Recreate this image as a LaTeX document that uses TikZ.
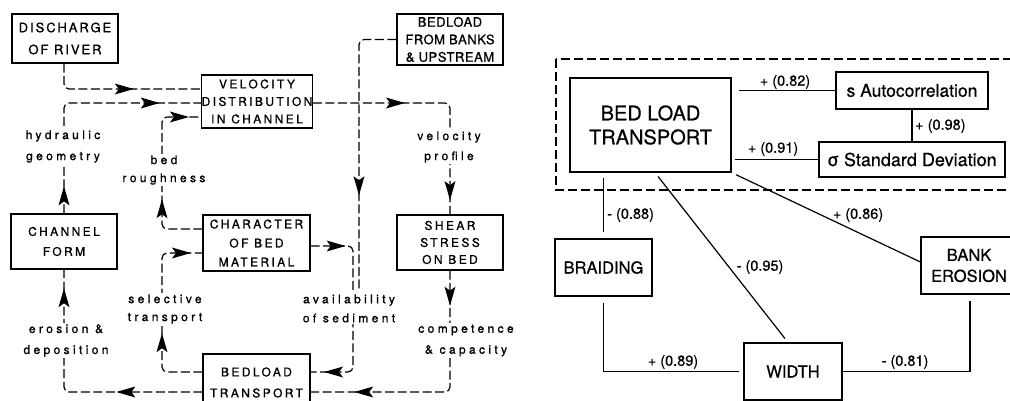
\documentclass[tikz,border=0pt]{standalone}
\usepackage{fontspec}
\setmainfont{TeX Gyre Heros}[FakeBold=0.6]
\newfontfamily\capA[LetterSpace=20,FakeBold=1]{TeX Gyre Heros}
\newfontfamily\capB[LetterSpace=4,FakeBold=1]{TeX Gyre Heros}
\newfontfamily\capC[LetterSpace=15,FakeBold=1]{TeX Gyre Heros}
\newfontfamily\lowA[LetterSpace=28,FakeBold=1]{TeX Gyre Heros}
\usetikzlibrary{arrows.meta,decorations.markings}
\newcommand\aheadmark{\fill[solid,sharp corners] (4pt,0pt) -- (-15pt,5.5pt) -- (-11pt,0pt) -- (-15pt,-5.5pt) -- cycle;}
\tikzset{
  lbox/.style={draw, line width=1.2pt, inner sep=0pt, align=center, font=\capA\fontsize{12}{17.5}\selectfont},
  conn/.style={line width=1.2pt, dash pattern=on 9pt off 3.5pt, rounded corners=5pt},
  am/.style={postaction={decorate,decoration={markings,mark=at position #1 with {\aheadmark}}}},
  lab/.style={fill=white, inner sep=1.5pt, align=center, font=\lowA\fontsize{12}{21}\selectfont},
  rbox/.style={draw, line width=1.2pt, inner sep=0pt, align=center},
  rline/.style={line width=1.2pt},
  rlab/.style={inner sep=0pt, font=\fontsize{14.5}{17}\selectfont},
}
\begin{document}
\begin{tikzpicture}[x=1pt,y=-1pt]
\useasboundingbox (0,0) rectangle (1010,401);
\clip (0,0) rectangle (1010,401);

% ---------- left diagram: boxes
\node[lbox, font=\capC\fontsize{13}{22}\selectfont, minimum width=106pt, minimum height=49pt] (disc) at (65,38.5) {DISCHARGE\\OF RIVER};
\node[lbox, minimum width=106pt, minimum height=53pt] (vel) at (257,101.5) {VELOCITY\\DISTRIBUTION\\IN CHANNEL};
\node[lbox, font=\capB\fontsize{13}{17.5}\selectfont, minimum width=106pt, minimum height=51pt] (bank) at (450,39.5) {BEDLOAD\\FROM BANKS\\\& UPSTREAM};
\node[lbox, font=\capA\fontsize{12}{20}\selectfont, minimum width=106pt, minimum height=55pt] (chan) at (64,241.5) {CHANNEL\\FORM};
\node[lbox, font=\capA\fontsize{12}{19}\selectfont, minimum width=107pt, minimum height=56pt] (char) at (256.5,243) {CHARACTER\\OF BED\\MATERIAL};
\node[lbox, font=\capA\fontsize{12}{17}\selectfont, minimum width=106pt, minimum height=55pt] (shear) at (450,242.5) {SHEAR\\STRESS\\ON BED};
\node[lbox, font=\capA\fontsize{12}{21}\selectfont, minimum width=107pt, minimum height=57pt] (bt) at (256.5,382.5) {BEDLOAD\\TRANSPORT};

% ---------- attachment points
\coordinate (v1) at ([yshift=12.5pt]vel.west);
\coordinate (v2) at ([yshift=-1.5pt]vel.west);
\coordinate (v3) at ([yshift=-15.5pt]vel.west);
\coordinate (ve) at ([yshift=-1.5pt]vel.east);
\coordinate (c1) at ([yshift=14pt]char.west);
\coordinate (c2) at ([yshift=-10pt]char.west);
\coordinate (ce) at ([yshift=-3pt]char.east);
\coordinate (b1) at ([yshift=10.5pt]bt.west);
\coordinate (b2) at ([yshift=-9.5pt]bt.west);
\coordinate (b1e) at ([yshift=10.5pt]bt.east);
\coordinate (b2e) at ([yshift=-9.5pt]bt.east);
\coordinate (xr) at (162,0);
\coordinate (xa) at (353,0);
\coordinate (bankend) at (359,290);

% ---------- left diagram: connectors
\draw[conn, am=89pt] ([xshift=-1pt]disc.south) |- (v1);
\draw[conn, am=23pt, am=200pt] (chan.north) |- (v2);
\draw[conn, am=64pt, am=171pt] (c1) -- (xr |- c1) -- (xr |- v3) -- (v3);
\draw[conn, am=73pt, am=180pt] (b1) -- (xr |- b1) -- (xr |- c2) -- (c2);
\draw[conn, am=82pt, am=236pt] (b2) -| (chan.south);
\draw[conn, am=88pt, am=228pt] (ve) -| (shear.north);
\draw[conn, am=31pt, am=211pt] (shear.south) |- (b2e);
\draw[conn, am=187pt] (bank.west) -| (bankend);
\draw[conn, am=31pt, am=189pt] (ce) -- (xa |- ce) -- (xa |- b1e) -- (b1e);

% ---------- left diagram: labels
\node[lab] (lhyd) at (63,146.5) {hydraulic\\geometry};
\node[lab, font=\lowA\fontsize{12}{18}\selectfont] (lbed) at (164,170) {bed\\roughness};
\node[lab, font=\lowA\fontsize{12}{20}\selectfont] (lvel) at (449,147) {velocity\\profile};
\node[lab, font=\lowA\fontsize{12}{18}\selectfont] (lsel) at (165,309) {selective\\transport};
\node[lab, font=\lowA\fontsize{12}{19}\selectfont] (lava) at (349,308.5) {availability\\of sediment};
\node[lab] (lero) at (66,340.5) {erosion \&\\deposition};
\node[lab] (lcom) at (466,340.5) {competence\\\& capacity};

% ---------- right diagram
\draw[line width=1.3pt, dash pattern=on 9pt off 4pt] (556,59) rectangle (1030,190);
\node[rbox, minimum width=161pt, minimum height=94pt, font=\fontsize{20}{24}\selectfont] (blt) at (650.5,125) {BED LOAD\\TRANSPORT};
\node[rbox, minimum width=152pt, minimum height=37pt, font=\fontsize{17.5}{20}\selectfont] (auto) at (912,90.5) {s Autocorrelation};
\node[rbox, minimum width=186pt, minimum height=35pt, font=\fontsize{18}{20}\selectfont] (sd) at (912,159.5) {σ Standard Deviation};
\node[rbox, minimum width=97pt, minimum height=57pt, font=\fontsize{16.5}{20}\selectfont] (braid) at (603.5,267.5) {BRAIDING};
\node[rbox, draw=none, minimum width=96pt, minimum height=57pt, font=\fontsize{16.5}{21}\selectfont] (banke) at (969,265.5) {BANK\\EROSION};
\draw[line width=1.3pt] ([shift={(0.6pt,-0.6pt)}]banke.north west) rectangle ([xshift=30pt,yshift=0.6pt]banke.south east);
\node[rbox, minimum width=98pt, minimum height=57pt, font=\fontsize{16.5}{20}\selectfont] (width) at (793,371.5) {WIDTH};

\draw[rline, shorten <=7pt] (blt.east |- auto.west) -- (auto.west);
\draw[rline, shorten <=3pt] (blt.east |- sd.west) -- (sd.west);
\draw[rline] (auto.south) -- (sd.north);
\draw[rline, shorten <=5pt, shorten >=6pt] (blt.south -| braid.north) -- (braid.north);
\draw[rline, shorten <=5pt, shorten >=5pt] ([xshift=4.5pt]blt.south) -- ([xshift=-5pt]width.north);
\draw[rline, shorten <=5pt] (blt.south east) -- ([yshift=3.5pt]banke.west);
\draw[rline, shorten <=6pt, shorten >=4pt] (braid.south) |- (width.west);
\draw[rline, shorten >=6pt] (width.east) -| ([xshift=1pt]banke.south);

\node[rlab] (r82) at (785,82) {+ (0.82)};
\node[rlab] (r91) at (773,149) {+ (0.91)};
\node[rlab, anchor=west] (r98) at (915,126) {+ (0.98)};
\node[rlab, anchor=west] (r88) at (607,215) {- (0.88)};
\node[rlab] (r95) at (760,267) {- (0.95)};
\node[rlab] (r86) at (858,215) {+ (0.86)};
\node[rlab] (r89) at (673,362) {+ (0.89)};
\node[rlab] (r81) at (905,362) {- (0.81)};
\end{tikzpicture}
\end{document}
